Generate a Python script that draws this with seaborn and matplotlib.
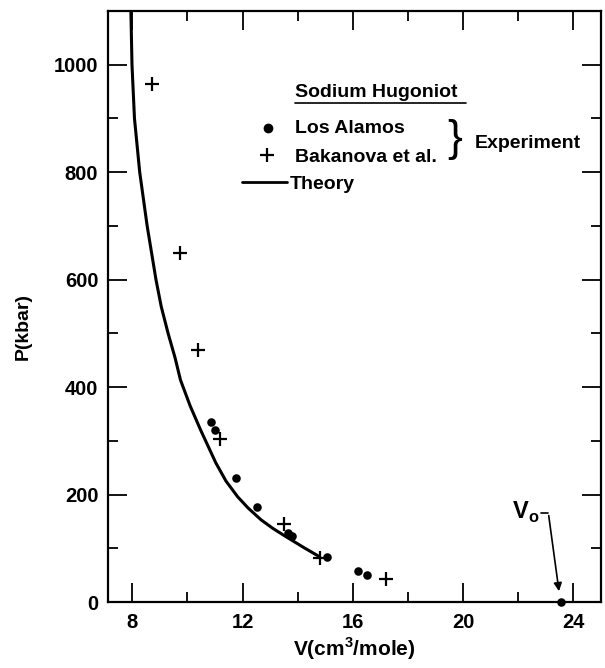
import matplotlib
matplotlib.use("Agg")
import matplotlib.pyplot as plt
import seaborn as sns
import pandas as pd
from matplotlib.ticker import MultipleLocator

# ---- data ----
los_alamos_v = [10.87, 11.00, 11.76, 12.53, 13.65, 13.79, 15.07, 16.20, 16.53, 23.55]
los_alamos_p = [335, 321, 230, 176, 129, 122, 84, 58, 50, 0]

bakanova_v = [8.72, 9.72, 10.40, 11.19, 13.49, 14.80, 17.20]
bakanova_p = [965, 650, 469, 303, 145, 82, 42]

theory_v = [7.95, 7.99, 8.08, 8.27, 8.54, 8.86, 9.05, 9.30, 9.55, 9.75, 10.10, 10.48,
            11.03, 11.40, 11.82, 12.20, 12.67, 13.10, 13.50, 14.20, 14.80]
theory_p = [1100, 1000, 900, 800, 700, 600, 550, 500, 455, 413, 365, 320,
            259, 225, 196, 175, 153, 137, 124, 102, 84]

x_ticks = [8, 12, 16, 20, 24]
y_ticks = [0, 200, 400, 600, 800, 1000]

sns.set_theme(style="ticks")
plt.rcParams['font.family'] = ['Liberation Sans', 'DejaVu Sans']
plt.rcParams['mathtext.fontset'] = 'custom'
plt.rcParams['mathtext.rm'] = 'Liberation Sans'
plt.rcParams['mathtext.bf'] = 'Liberation Sans:bold'
plt.rcParams['text.color'] = 'black'
plt.rcParams['axes.labelcolor'] = 'black'

fig = plt.figure(figsize=(6.05, 6.68), dpi=100)
ax = fig.add_axes([108/605, 1-602/668, 493/605, 591/668])

df_la = pd.DataFrame({"V": los_alamos_v, "P": los_alamos_p})
df_bk = pd.DataFrame({"V": bakanova_v, "P": bakanova_p})
df_th = pd.DataFrame({"V": theory_v, "P": theory_p})

sns.lineplot(data=df_th, x="V", y="P", sort=False, color="black", lw=2.2, ax=ax)
sns.scatterplot(data=df_la, x="V", y="P", marker="o", s=38, color="black",
                edgecolor="black", linewidth=0, ax=ax, clip_on=False, zorder=5)
sns.scatterplot(data=df_bk, x="V", y="P", marker="+", s=90, color="black",
                linewidth=1.6, ax=ax, zorder=5)

ax.set_xlim(7.12, 25.0)
ax.set_ylim(0, 1100)
ax.set_xticks(x_ticks)
ax.set_yticks(y_ticks)
ax.xaxis.set_minor_locator(MultipleLocator(2))
ax.yaxis.set_minor_locator(MultipleLocator(100))
ax.tick_params(which="both", direction="in", top=True, right=True, width=1.3,
               labelsize=14.5, colors="black")
ax.tick_params(which="major", length=14)
ax.tick_params(which="minor", length=7)
ax.tick_params(axis="y", pad=7)
ax.tick_params(axis="x", pad=8)
for lab in ax.get_xticklabels() + ax.get_yticklabels():
    lab.set_fontweight("bold")
for sp in ax.spines.values():
    sp.set_linewidth(1.6)
    sp.set_color("black")

ax.set_xlabel("V(cm$^\\mathbf{3}$/mole)", fontsize=15, fontweight="bold")
ax.xaxis.set_label_coords(0.5, -0.056)
ax.set_ylabel("P(kbar)", fontsize=14, fontweight="bold")
ax.yaxis.set_label_coords(-0.155, 0.467)

# ---- legend drawn as annotations ----
tr = ax.transAxes
fs = 14
ax.text(0.379, 0.866, "Sodium Hugoniot", transform=tr, fontsize=fs, fontweight="bold",
        va="center_baseline", ha="left")
ax.plot([0.379, 0.726], [0.844, 0.844], transform=tr, color="black", lw=1.2)
ax.plot([0.325], [0.802], transform=tr, marker="o", ms=6, color="black", ls="none")
ax.text(0.379, 0.804, "Los Alamos", transform=tr, fontsize=fs, fontweight="bold",
        va="center_baseline")
ax.plot([0.3225], [0.756], transform=tr, marker="+", ms=10, mew=1.6, color="black", ls="none")
ax.text(0.379, 0.756, "Bakanova et al.", transform=tr, fontsize=fs, fontweight="bold",
        va="center_baseline")
ax.plot([0.272, 0.363], [0.711, 0.711], transform=tr, color="black", lw=2)
ax.text(0.369, 0.709, "Theory", transform=tr, fontsize=fs, fontweight="bold",
        va="center_baseline")
ax.text(0.704, 0.782, "}", transform=tr, fontsize=32, va="center", ha="center",
        fontweight="light")
ax.text(0.744, 0.780, "Experiment", transform=tr, fontsize=fs, fontweight="bold",
        va="center_baseline")

# ---- V0 annotation ----
ax.text(22.75, 166, "V$_\\mathbf{o}$", fontsize=17, fontweight="bold", ha="right",
        va="center")
ax.plot([22.84, 23.09], [166, 166], color="black", lw=1.2)
ax.annotate("", xy=(23.49, 15), xytext=(23.09, 166),
            arrowprops=dict(arrowstyle="-|>", color="black", lw=1.2, mutation_scale=12))

fig.savefig("out.png", dpi=100)
